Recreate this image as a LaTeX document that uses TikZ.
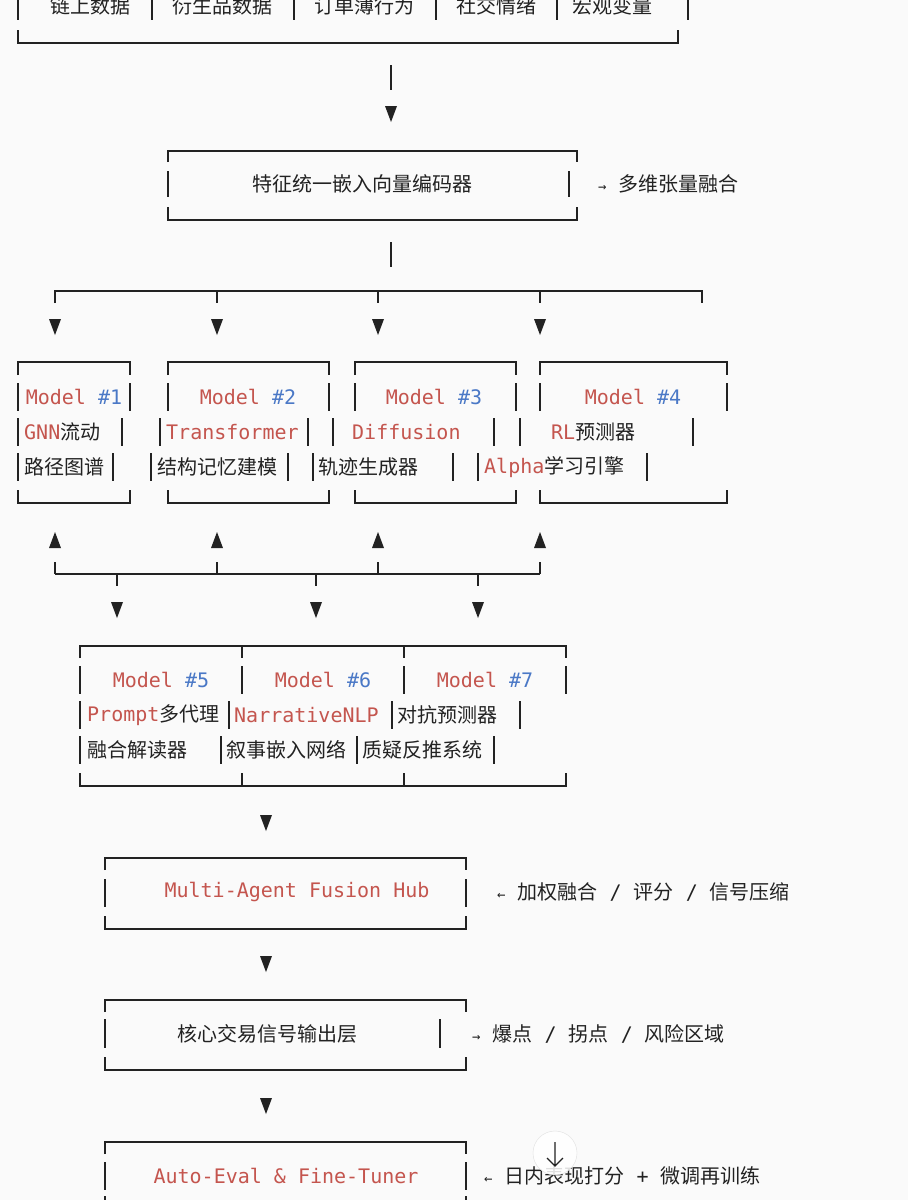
\documentclass[tikz,border=0pt]{standalone}
\usepackage{fontspec}
\setmainfont{DejaVu Sans Mono}
\newfontfamily\cjk{Noto Sans CJK SC}
\definecolor{bg}{HTML}{FAFAFA}
\definecolor{mred}{HTML}{C4554E}
\definecolor{mblue}{HTML}{4A78C6}
\definecolor{ink}{HTML}{222222}
\newcommand\Rd[1]{\textcolor{mred}{#1}}
\newcommand\Bl[1]{\textcolor{mblue}{#1}}
\newcommand\C[1]{{\cjk #1}}
\newcommand\Mod[1]{\Rd{Model} \Bl{\##1}}
\begin{document}
\begin{tikzpicture}[x=1pt,y=-1pt,
  ln/.style={draw=ink,line width=1.6pt},
  br/.style={draw=ink,line width=1.3pt},
  tx/.style={inner sep=0pt,anchor=west,text=ink,font=\fontsize{20}{22}\selectfont},
  txc/.style={tx,anchor=center},
  ]
\fill[bg] (0,0) rectangle (908,1200);
\useasboundingbox (0,0) rectangle (908,1200);
\newcommand\tri[2]{\fill[ink] (#1-6,#2-8) -- (#1+6,#2-8) -- (#1,#2+8) -- cycle;}
\newcommand\utri[2]{\fill[ink] (#1-6,#2+8) -- (#1+6,#2+8) -- (#1,#2-8) -- cycle;}
\newcommand\vb[3]{\draw[br] (#1,#2) -- (#1,#3);}
% top box
\foreach \x in {18,152,294,436,557,688} {\vb{\x}{-2}{20}}
\node[txc] (s1) at (90,6) {\C{链上数据}};
\node[txc] (s2) at (222,6) {\C{衍生品数据}};
\node[txc] (s3) at (364,6) {\C{订单薄行为}};
\node[txc] (s4) at (496,6) {\C{社交情绪}};
\node[txc] (s5) at (612,6) {\C{宏观变量}};
\draw[ln] (18,30) -- (18,43) -- (678,43) -- (678,30);
\vb{391}{65}{90}
\tri{391}{114}
% encoder
\draw[ln] (168,162) -- (168,151) -- (577,151) -- (577,162);
\draw[ln] (168,207) -- (168,220) -- (577,220) -- (577,207);
\vb{168}{171}{197}\vb{569}{171}{197}
\node[txc] (enc) at (362,184) {\C{特征统一嵌入向量编码器}};
\node[tx] (encn) at (598,184) {{\fontsize{14}{16}\selectfont→} \C{多维张量融合}};
\vb{391}{242}{267}
\draw[ln] (55,303) -- (55,291) -- (702,291) -- (702,303);
\foreach \x in {217,378,540} {\draw[ln] (\x,291) -- (\x,303);}
\foreach \x in {55,217,378,540} {\tri{\x}{327}}
% models 1-4
\foreach \a/\b in {18/130,168/329,355/516,540/727} {
  \draw[ln] (\a,375) -- (\a,362) -- (\b,362) -- (\b,375);
  \draw[ln] (\a,490) -- (\a,503) -- (\b,503) -- (\b,490);
  \vb{\a}{383}{411}\vb{\b}{383}{411}}
\node[txc] (m1) at (74,397) {\Mod1};
\node[txc] (m2) at (248,397) {\Mod2};
\node[txc] (m3) at (434,397) {\Mod3};
\node[txc] (m4) at (633,397) {\Mod4};
\foreach \x in {18,122,160,308,333,494,520,693} {\vb{\x}{418}{446}}
\node[tx] (m1a) at (24,432) {\Rd{GNN}\C{流动}};
\node[tx] (m2a) at (166,432) {\Rd{Transformer}};
\node[tx] (m3a) at (352,432) {\Rd{Diffusion}};
\node[tx] (m4a) at (551,432) {\Rd{RL}\C{预测器}};
\foreach \x in {18,113,151,288,313,453,478,647} {\vb{\x}{453}{481}}
\node[tx] (m1b) at (24,467) {\C{路径图谱}};
\node[tx] (m2b) at (157,467) {\C{结构记忆建模}};
\node[tx] (m3b) at (318,467) {\C{轨迹生成器}};
\node[tx] (m4b) at (484,467) {\Rd{Alpha}\C{学习引擎}};
% merge
\foreach \x in {55,217,378,540} {\utri{\x}{540}\draw[ln] (\x,562) -- (\x,574);}
\draw[ln] (55,574) -- (540,574);
\foreach \x in {117,316,478} {\draw[ln] (\x,574) -- (\x,586); \tri{\x}{610}}
% models 5-7
\draw[ln] (80,658) -- (80,646) -- (566,646) -- (566,658);
\draw[ln] (80,773) -- (80,786) -- (566,786) -- (566,773);
\foreach \x in {242,404} {\draw[ln] (\x,646) -- (\x,658); \draw[ln] (\x,773) -- (\x,786);}
\foreach \x in {80,242,404,566} {\vb{\x}{666}{694}}
\node[txc] (m5) at (161,680) {\Mod5};
\node[txc] (m6) at (323,680) {\Mod6};
\node[txc] (m7) at (485,680) {\Mod7};
\foreach \x in {80,229,392,520} {\vb{\x}{701}{729}}
\node[tx] (m5a) at (87,715) {\Rd{Prompt}\C{多代理}};
\node[tx] (m6a) at (234,715) {\Rd{NarrativeNLP}};
\node[tx] (m7a) at (397,715) {\C{对抗预测器}};
\foreach \x in {80,221,357,494} {\vb{\x}{736}{764}}
\node[tx] (m5b) at (87,750) {\C{融合解读器}};
\node[tx] (m6b) at (226,750) {\C{叙事嵌入网络}};
\node[tx] (m7b) at (362,750) {\C{质疑反推系统}};
\tri{266}{823}
% hub
\draw[ln] (105,870) -- (105,858) -- (466,858) -- (466,870);
\draw[ln] (105,916) -- (105,929) -- (466,929) -- (466,916);
\vb{105}{879}{907}\vb{466}{879}{907}
\node[txc] (hub) at (297,892) {\Rd{Multi-Agent Fusion Hub}};
\node[tx] (hubn) at (497,892) {{\fontsize{14}{16}\selectfont←} \C{加权融合} / \C{评分} / \C{信号压缩}};
\tri{266}{964}
% output
\draw[ln] (105,1012) -- (105,1000) -- (466,1000) -- (466,1012);
\draw[ln] (105,1057) -- (105,1070) -- (466,1070) -- (466,1057);
\vb{105}{1019}{1048}\vb{440}{1019}{1048}
\node[txc] (out) at (267,1034) {\C{核心交易信号输出层}};
\node[tx] (outn) at (472,1034) {{\fontsize{14}{16}\selectfont→} \C{爆点} / \C{拐点} / \C{风险区域}};
\tri{266}{1106}
% auto
\draw[ln] (105,1154) -- (105,1142) -- (466,1142) -- (466,1154);
\vb{105}{1162}{1190}\vb{466}{1162}{1190}
\draw[ln] (105,1196) -- (105,1202); \draw[ln] (466,1196) -- (466,1202);
\node[txc] (auto) at (286,1176) {\Rd{Auto-Eval \& Fine-Tuner}};
\node[tx] (auton) at (484,1176) {{\fontsize{14}{16}\selectfont←} \C{日内表现打分} + \C{微调再训练}};
\node[circle,fill=white,fill opacity=0.85,draw=black!12,minimum size=44pt,inner sep=0pt] (btn) at (555,1153) {};
\draw[ink,line width=1.3pt] (555,1142) -- (555,1166) (547,1158) -- (555,1166) -- (563,1158);
\end{tikzpicture}
\end{document}
